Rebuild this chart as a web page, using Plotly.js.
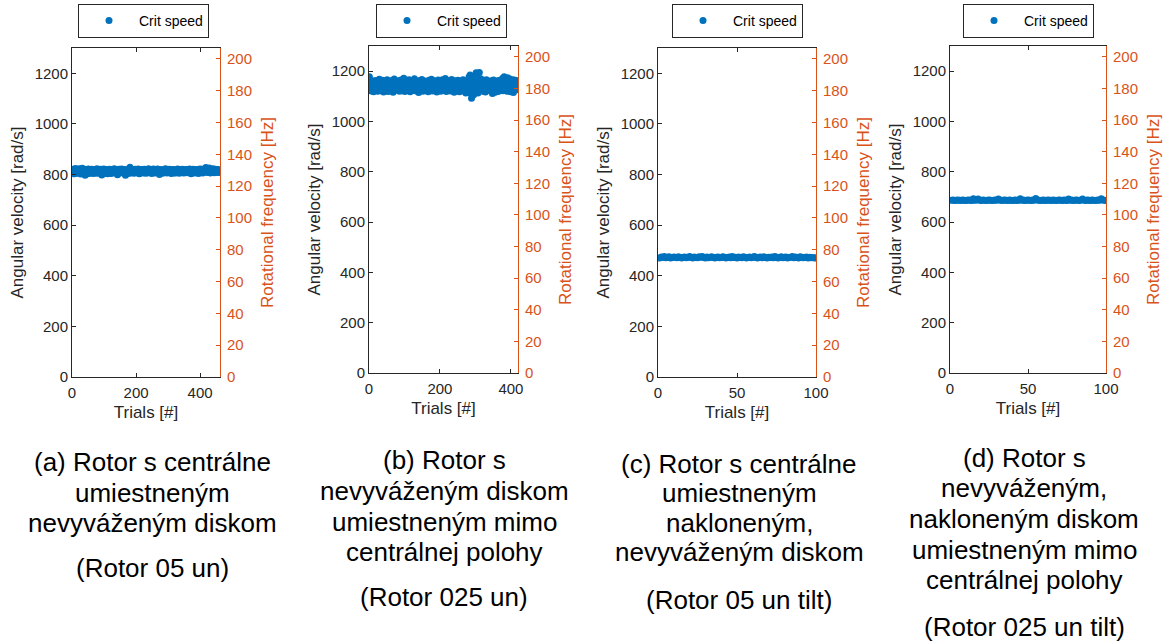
<!DOCTYPE html>
<html><head><meta charset="utf-8">
<script src="https://cdn.plot.ly/plotly-3.0.1.min.js"></script>
<style>html,body{margin:0;padding:0;background:#fff}#chart{width:1163px;height:643px}</style>
</head><body><div id="chart"></div>
<script>
// ---------- data ----------
const seriesName = 'Crit speed';
const xTitle = 'Trials [#]';
const yLeftTitle = 'Angular velocity [rad/s]';
const yRightTitle = 'Rotational frequency [Hz]';
const leftTickVals = [0, 200, 400, 600, 800, 1000, 1200];
const rightTickVals = [0, 20, 40, 60, 80, 100, 120, 140, 160, 180, 200];
const xTickValsAB = [0, 200, 400];
const xTickValsCD = [0, 50, 100];

// Rotor 05 un (460 trials)
const speedA = [
812,818,806,815,821,809,803,816,811,824,807,813,819,805,817,822,810,808,814,820,
806,815,811,823,809,817,802,813,819,808,816,825,811,804,818,813,807,821,815,810,
797,812,818,806,814,820,809,816,803,811,822,815,808,817,812,805,819,813,810,816,
821,807,814,818,811,804,816,812,820,809,815,806,813,819,808,817,811,823,805,814,
810,816,809,819,813,806,817,811,821,808,815,812,798,814,819,807,816,810,822,813,
809,815,818,805,812,820,811,807,816,814,803,819,810,817,813,808,821,812,806,815,
818,811,804,816,813,820,808,815,810,817,812,823,807,814,819,809,816,811,805,818,
813,799,812,817,808,815,821,810,806,814,819,812,816,809,822,813,807,818,811,815,
806,816,812,820,809,814,797,811,817,813,808,819,815,810,816,804,812,821,809,814,
829,815,810,818,806,813,820,811,816,808,814,819,812,805,817,810,815,821,808,813,
816,810,819,807,814,812,822,809,815,803,811,818,813,806,816,820,810,814,808,817,
812,819,806,815,811,821,808,814,817,810,805,813,819,812,816,807,815,811,823,809,
814,807,817,812,820,809,815,811,804,818,813,816,810,822,808,814,819,811,806,815,
810,817,813,819,808,815,822,811,806,816,812,818,800,814,820,809,815,812,817,808,
816,811,805,818,813,820,810,815,808,817,812,823,809,814,818,806,813,816,811,819,
808,815,812,821,807,814,817,810,816,804,812,819,813,809,815,820,811,806,817,813,
815,810,818,806,813,819,811,816,808,822,814,810,817,812,805,815,820,809,813,818,
812,817,808,815,821,810,814,806,818,812,816,809,819,813,807,815,811,820,814,809,
816,811,819,807,814,812,822,809,815,810,817,803,813,818,811,816,808,821,812,815,
809,818,813,806,816,811,820,814,808,817,812,815,819,810,804,813,817,811,822,815,
812,808,816,821,810,814,818,806,815,819,811,813,817,809,824,816,812,828,814,819,
810,817,822,813,808,819,815,826,811,816,820,806,814,818,812,821,809,817,813,823,
815,811,819,807,816,813,821,810,817,814,809,818,812,820,811,816,808,819,813,815];

// Rotor 025 un (418 trials)
const speedB = [
1178,1140,1165,1132,1152,1121,1146,1160,1128,1155,1137,1149,1118,1162,1143,1131,1157,1125,1148,1139,
1163,1129,1151,1144,1120,1158,1135,1147,1168,1126,1153,1141,1133,1159,1122,1150,1138,1164,1130,1145,
1117,1156,1142,1127,1161,1136,1149,1123,1154,1140,1166,1131,1147,1119,1158,1143,1134,1152,1125,1160,
1139,1148,1121,1163,1132,1155,1144,1116,1150,1137,1169,1128,1153,1142,1124,1159,1135,1146,1130,1157,
1143,1126,1162,1138,1151,1120,1156,1145,1131,1165,1134,1149,1122,1158,1141,1128,1154,1172,1136,1147,
1119,1160,1139,1152,1127,1164,1133,1146,1124,1157,1140,1130,1166,1137,1150,1118,1155,1143,1129,1161,
1134,1148,1123,1159,1141,1132,1153,1170,1126,1145,1138,1162,1121,1150,1136,1157,1128,1147,1142,1115,
1156,1131,1163,1140,1125,1152,1144,1134,1167,1129,1149,1120,1158,1137,1146,1161,1127,1153,1139,1132,
1151,1122,1160,1143,1135,1157,1118,1148,1164,1130,1142,1155,1126,1150,1138,1168,1133,1145,1121,1159,
1137,1154,1128,1147,1162,1124,1141,1156,1132,1149,1117,1158,1140,1135,1165,1127,1152,1144,1130,1161,
1145,1120,1157,1139,1150,1131,1166,1136,1148,1123,1159,1142,1129,1154,1171,1134,1146,1119,1156,1140,
1126,1163,1143,1152,1128,1147,1137,1160,1121,1155,1141,1133,1167,1130,1149,1124,1158,1138,1145,1116,
1153,1136,1162,1127,1148,1140,1157,1122,1151,1134,1164,1129,1144,1159,1118,1150,1139,1155,1131,1146,
1124,1158,1142,1135,1166,1128,1153,1143,1120,1160,1137,1149,1113,1156,1130,1145,1163,1125,1152,1141,
1120,1177,1148,1128,1185,1112,1160,1135,1092,1168,1124,1152,1140,1174,1106,1158,1131,1180,1145,1118,
1165,1194,1127,1150,1141,1172,1113,1156,1137,1162,1195,1123,1147,1135,1170,1129,1153,1142,1160,1120,
1151,1133,1164,1126,1148,1139,1158,1117,1154,1143,1166,1130,1146,1124,1161,1136,1150,1128,1157,1141,
1132,1155,1121,1147,1162,1129,1144,1111,1152,1137,1165,1125,1149,1140,1157,1116,1145,1134,1160,1127,
1154,1138,1148,1119,1163,1142,1131,1156,1124,1147,1136,1159,1128,1150,1143,1171,1122,1153,1139,1145,
1178,1130,1160,1146,1125,1168,1137,1152,1120,1174,1141,1133,1163,1127,1149,1170,1135,1158,1118,1144,
1155,1162,1123,1147,1139,1166,1115,1151,1143,1129,1158,1136,1164,1125,1148,1132,1160,1141];

// Rotor 05 un tilt (100 trials)
const speedC = [
470,474,472,476,471,473,475,470,472,474,473,471,475,472,470,473,474,471,472,476,
473,470,474,472,471,475,473,476,472,470,474,471,473,475,472,470,473,474,471,472,
475,473,470,472,474,471,476,472,473,470,474,472,471,475,473,470,472,474,471,473,
476,472,470,473,474,471,475,472,470,473,472,474,471,476,473,470,472,475,471,473,
474,470,472,473,476,471,474,472,470,475,473,471,472,474,470,473,471,472,470,471];

// Rotor 025 un tilt (100 trials)
const speedD = [
687,688,686,687,688,687,686,688,687,686,687,688,687,686,693,687,688,692,687,686,
688,687,686,687,688,687,686,687,688,687,692,688,686,687,688,687,686,688,687,686,
687,688,686,687,693,687,688,686,687,688,687,686,688,687,694,688,687,686,687,688,
686,687,688,687,686,688,687,686,687,688,687,686,688,687,686,692,687,688,686,687,
688,687,686,688,692,687,686,688,687,686,688,687,686,687,688,687,693,688,687,686];

const captionLinesA = ['(a) Rotor s centrálne', 'umiestneným', 'nevyváženým diskom'];
const captionSubA = '(Rotor 05 un)';
const captionLinesB = ['(b) Rotor s', 'nevyváženým diskom', 'umiestneným mimo', 'centrálnej polohy'];
const captionSubB = '(Rotor 025 un)';
const captionLinesC = ['(c) Rotor s centrálne', 'umiestneným', 'nakloneným,', 'nevyváženým diskom'];
const captionSubC = '(Rotor 05 un tilt)';
const captionLinesD = ['(d) Rotor s', 'nevyváženým,', 'nakloneným diskom', 'umiestneným mimo', 'centrálnej polohy'];
const captionSubD = '(Rotor 025 un tilt)';

// ---------- layout config ----------
const W = 1163, H = 643;
const FONT = 'Arial, "Liberation Sans", sans-serif';
const BLUE = '#0072BD', ORANGE = '#D95319', AX = '#262626';
const LEFT_MAX = 1300;

const panels = [
  {data: speedA, xmax: 462, xt: xTickValsAB, box: [72, 48, 220, 377], leg: 78,
   cap: captionLinesA, capY: [462, 493, 523], sub: captionSubA, subY: 568, cx: 152},
  {data: speedB, xmax: 420, xt: xTickValsAB, box: [369, 46, 518, 373], leg: 376,
   cap: captionLinesB, capY: [460, 491, 522, 552], sub: captionSubB, subY: 597, cx: 444},
  {data: speedC, xmax: 100, xt: xTickValsCD, box: [658, 48, 816, 377], leg: 672,
   cap: captionLinesC, capY: [464, 493, 523, 552], sub: captionSubC, subY: 600, cx: 739},
  {data: speedD, xmax: 100, xt: xTickValsCD, box: [950, 46, 1106, 373], leg: 963,
   cap: captionLinesD, capY: [458, 488, 519, 550, 580], sub: captionSubD, subY: 627, cx: 1024}
];

const traces = [];
const layout = {
  width: W, height: H,
  margin: {l: 0, r: 0, t: 0, b: 0},
  paper_bgcolor: '#fff', plot_bgcolor: '#fff',
  font: {family: FONT, color: AX},
  showlegend: true,
  annotations: [],
  hovermode: false
};

panels.forEach((p, i) => {
  const n = i + 1;
  const xk = n === 1 ? 'xaxis' : 'xaxis' + n;
  const xid = n === 1 ? 'x' : 'x' + n;
  const yl = 2 * n - 1, yr = 2 * n;
  const ylk = yl === 1 ? 'yaxis' : 'yaxis' + yl;
  const ylid = yl === 1 ? 'y' : 'y' + yl;
  const yrk = 'yaxis' + yr;
  const yrid = 'y' + yr;
  const legk = n === 1 ? 'legend' : 'legend' + n;
  const [x0, y0, x1, y1] = p.box;
  const xdom = [x0 / W, x1 / W];
  const ydom = [1 - y1 / H, 1 - y0 / H];

  traces.push({
    type: 'scatter', mode: 'markers', name: seriesName,
    x: p.data.map((_, k) => k + 1), y: p.data,
    xaxis: xid, yaxis: ylid, legend: legk,
    marker: {color: BLUE, size: 7}
  });
  // empty trace so the right-hand (Hz) axis of this panel is drawn
  traces.push({
    type: 'scatter', mode: 'markers', x: [], y: [],
    xaxis: xid, yaxis: yrid, showlegend: false, hoverinfo: 'skip'
  });

  layout[xk] = {
    domain: xdom, anchor: ylid, range: [0, p.xmax],
    tickvals: p.xt, ticks: 'inside', ticklen: 4, tickcolor: AX,
    showline: true, linecolor: AX, linewidth: 1, mirror: 'ticks',
    showgrid: false, zeroline: false, ticklabelstandoff: 2,
    tickfont: {size: 15, color: AX, family: FONT},
    title: {text: xTitle, font: {size: 17, color: AX, family: FONT}, standoff: 6}
  };
  layout[ylk] = {
    domain: ydom, anchor: xid, range: [0, LEFT_MAX],
    tickvals: leftTickVals, ticks: 'inside', ticklen: 4, tickcolor: AX,
    showline: true, linecolor: AX, linewidth: 1,
    showgrid: false, zeroline: false,
    tickfont: {size: 15, color: AX, family: FONT},
    title: {text: yLeftTitle, font: {size: 17, color: AX, family: FONT}, standoff: 6}
  };
  layout[yrk] = {
    overlaying: ylid, side: 'right', anchor: xid,
    range: [0, LEFT_MAX / (2 * Math.PI)],
    tickvals: rightTickVals, ticks: 'inside', ticklen: 4, tickcolor: ORANGE,
    showline: true, linecolor: ORANGE, linewidth: 1,
    showgrid: false, zeroline: false, ticklabelstandoff: 3,
    tickfont: {size: 15, color: ORANGE, family: FONT},
    title: {text: yRightTitle, font: {size: 17, color: ORANGE, family: FONT}, standoff: 10}
  };
  layout[legk] = {
    x: p.leg / W, y: 1 - 4 / H, xanchor: 'left', yanchor: 'top',
    bgcolor: '#fff', bordercolor: AX, borderwidth: 1,
    itemwidth: 50, font: {size: 14, color: '#000', family: FONT}
  };

  p.cap.forEach((line, k) => {
    layout.annotations.push({
      xref: 'paper', yref: 'paper', x: p.cx / W, y: 1 - p.capY[k] / H,
      xanchor: 'center', yanchor: 'middle', showarrow: false, text: line,
      font: {size: 26, color: '#000', family: FONT}
    });
  });
  layout.annotations.push({
    xref: 'paper', yref: 'paper', x: p.cx / W, y: 1 - p.subY / H,
    xanchor: 'center', yanchor: 'middle', showarrow: false, text: p.sub,
    font: {size: 26, color: '#000', family: FONT}
  });
});

Plotly.newPlot('chart', traces, layout, {displayModeBar: false, staticPlot: true});
</script>
</body></html>
